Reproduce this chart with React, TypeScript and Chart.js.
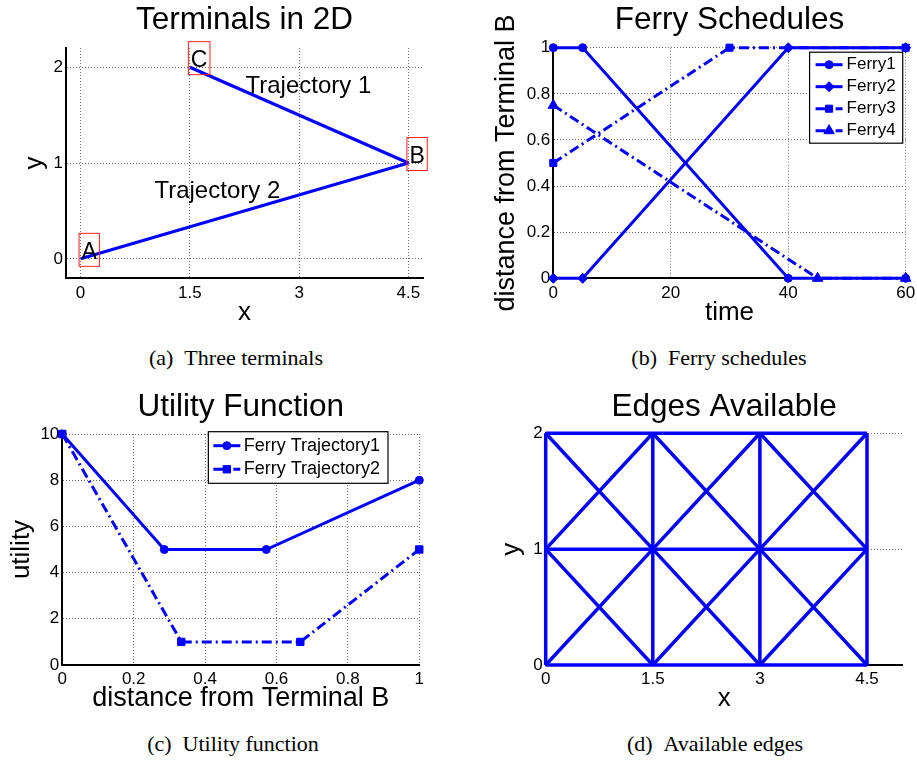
import React, { useEffect, useRef } from 'react';
import { Chart, registerables } from 'chart.js';

Chart.register(...registerables);

const BLUE = '#0000ff';
const SANS = '"Liberation Sans", Arial, Helvetica, sans-serif';
const SERIF = '"Liberation Serif", "Times New Roman", serif';
const DASHDOT = [10, 4, 2, 4];

// ---------- Panel (a): terminals ----------
const terminalNames = ['A', 'B', 'C'];
const terminalX = [0, 4.5, 1.5];
const terminalY = [0, 1, 2];
const trajectory1X = [1.5, 4.5];
const trajectory1Y = [2, 1];
const trajectory2X = [0, 4.5];
const trajectory2Y = [0, 1];
const trajectoryLabels = ['Trajectory 1', 'Trajectory 2'];
const trajectoryLabelX = [2.25, 1.0];
const trajectoryLabelY = [1.8, 0.7];
const terminalXTicks = [0, 1.5, 3, 4.5];
const terminalYTicks = [0, 1, 2];

// ---------- Panel (b): ferry schedules ----------
const ferryNames = ['Ferry1', 'Ferry2', 'Ferry3', 'Ferry4'];
const ferry1Time = [0, 5, 40, 60];
const ferry1Dist = [1, 1, 0, 0];
const ferry2Time = [0, 5, 40, 60];
const ferry2Dist = [0, 0, 1, 1];
const ferry3Time = [0, 30, 60];
const ferry3Dist = [0.5, 1, 1];
const ferry4Time = [0, 45, 60];
const ferry4Dist = [0.75, 0, 0];
const timeTicks = [0, 20, 40, 60];
const distTicks = [0, 0.2, 0.4, 0.6, 0.8, 1];

// ---------- Panel (c): utility ----------
const utilityNames = ['Ferry Trajectory1', 'Ferry Trajectory2'];
const utility1Dist = [0, 0.2857, 0.5714, 1];
const utility1Value = [10, 5, 5, 8];
const utility2Dist = [0, 0.3333, 0.6667, 1];
const utility2Value = [10, 1, 1, 5];
const utilityXTicks = [0, 0.2, 0.4, 0.6, 0.8, 1];
const utilityYTicks = [0, 2, 4, 6, 8, 10];

// ---------- Panel (d): edges ----------
const edgePaths: number[][][] = [
  [[0, 0], [4.5, 0]],
  [[0, 1], [4.5, 1]],
  [[0, 2], [4.5, 2]],
  [[0, 0], [0, 2]],
  [[1.5, 0], [1.5, 2]],
  [[3, 0], [3, 2]],
  [[4.5, 0], [4.5, 2]],
  [[0, 0], [1.5, 1], [3, 2]],
  [[0, 1], [1.5, 2]],
  [[1.5, 0], [3, 1], [4.5, 2]],
  [[3, 0], [4.5, 1]],
  [[0, 2], [1.5, 1], [3, 0]],
  [[0, 1], [1.5, 0]],
  [[1.5, 2], [3, 1], [4.5, 0]],
  [[3, 2], [4.5, 1]],
];
const edgeXTicks = [0, 1.5, 3, 4.5];
const edgeYTicks = [0, 1, 2];

const pts = (xs: number[], ys: number[]) => xs.map((x, i) => ({ x, y: ys[i] }));

function drawMarker(ctx: CanvasRenderingContext2D, style: string, x: number, y: number, r: number) {
  ctx.beginPath();
  if (style === 'circle') {
    ctx.arc(x, y, r, 0, Math.PI * 2);
  } else if (style === 'rect') {
    const s = r * Math.SQRT1_2;
    ctx.rect(x - s, y - s, 2 * s, 2 * s);
  } else if (style === 'rectRot') {
    ctx.moveTo(x - r, y);
    ctx.lineTo(x, y - r);
    ctx.lineTo(x + r, y);
    ctx.lineTo(x, y + r);
    ctx.closePath();
  } else if (style === 'triangle') {
    const a = (Math.PI * 2) / 3;
    ctx.moveTo(x, y - r);
    ctx.lineTo(x + Math.sin(a) * r, y - Math.cos(a) * r);
    ctx.lineTo(x - Math.sin(a) * r, y - Math.cos(a) * r);
    ctx.closePath();
  }
  ctx.fillStyle = BLUE;
  ctx.strokeStyle = BLUE;
  ctx.lineWidth = 1;
  ctx.setLineDash([]);
  ctx.fill();
  ctx.stroke();
}

type LegendItem = { label: string; style: string; radius: number; dash: number[] };
type LegendSpec = {
  items: LegendItem[];
  fontSize: number;
  rightOffset: number;
  topOffset: number;
  rowH: number;
  padTop: number;
  lineStart: number;
  lineLen: number;
  textStart: number;
  padRight: number;
};
type TextSpec = { text: string; x: number; y: number; size: number; baseline: CanvasTextBaseline; box?: boolean };

type PanelSpec = {
  left: number;
  top: number;
  width: number;
  height: number;
  area: { l: number; t: number; r: number; b: number };
  title: string;
  titleBaseline: number;
  xTitle: string;
  xTitleSize: number;
  xTitlePad: number;
  yTitle: string;
  yTitleSize: number;
  yTitlePad: number;
  xTickPad: number;
  xMin: number;
  xMax: number;
  yMin: number;
  yMax: number;
  xTicks: number[];
  yTicks: number[];
  datasets: any[];
  legend?: LegendSpec;
  texts?: TextSpec[];
};

const fmt = (v: number) => String(Number(Number(v).toFixed(4)));

function scaleCfg(axis: 'x' | 'y', s: PanelSpec) {
  const isX = axis === 'x';
  const ticks = isX ? s.xTicks : s.yTicks;
  const fixed = isX ? s.height - s.area.b : s.area.l;
  return {
    type: 'linear',
    position: isX ? 'bottom' : 'left',
    min: isX ? s.xMin : s.yMin,
    max: isX ? s.xMax : s.yMax,
    afterBuildTicks: (sc: any) => {
      sc.ticks = ticks.map((v) => ({ value: v }));
    },
    afterFit: (sc: any) => {
      if (isX) sc.height = fixed;
      else sc.width = fixed;
      sc.paddingLeft = 0;
      sc.paddingRight = 0;
      sc.paddingTop = 0;
      sc.paddingBottom = 0;
    },
    ticks: {
      color: '#000',
      font: { family: SANS, size: 17 },
      padding: isX ? s.xTickPad : 3,
      autoSkip: false,
      maxRotation: 0,
      minRotation: 0,
      callback: (v: any) => fmt(v),
    },
    grid: { color: '#6e6e6e', lineWidth: 1, drawTicks: false },
    border: { display: true, color: '#000', width: 2, dash: [1, 2] },
    title: {
      display: true,
      text: isX ? s.xTitle : s.yTitle,
      color: '#000',
      font: { family: SANS, size: isX ? s.xTitleSize : s.yTitleSize },
      padding: isX ? { top: 0, bottom: s.xTitlePad } : { top: s.yTitlePad, bottom: 0 },
    },
  };
}

function makeExtras(s: PanelSpec) {
  return {
    id: 'extras',
    afterDraw(chart: any) {
      const { ctx, chartArea } = chart;
      const xs = chart.scales.x;
      const ys = chart.scales.y;
      ctx.save();
      // Title
      ctx.fillStyle = '#000';
      ctx.font = `31.5px ${SANS}`;
      ctx.textAlign = 'center';
      ctx.textBaseline = 'alphabetic';
      ctx.fillText(s.title, (chartArea.left + chartArea.right) / 2, s.titleBaseline);

      // Annotation texts
      for (const t of s.texts || []) {
        const px = xs.getPixelForValue(t.x);
        const py = ys.getPixelForValue(t.y);
        ctx.font = `${t.size}px ${SANS}`;
        ctx.textAlign = 'left';
        ctx.textBaseline = t.baseline;
        ctx.fillStyle = '#000';
        ctx.fillText(t.text, px + 1, py);
        if (t.box) {
          const w = ctx.measureText(t.text).width;
          ctx.strokeStyle = '#ff2020';
          ctx.lineWidth = 1;
          ctx.setLineDash([]);
          ctx.strokeRect(px - 1.5, py - 25.5, w + 5, 33);
        }
      }

      // Legend
      const lg = s.legend;
      if (lg) {
        ctx.font = `${lg.fontSize}px ${SANS}`;
        const tw = Math.max(...lg.items.map((it) => ctx.measureText(it.label).width));
        const w = lg.textStart + tw + lg.padRight;
        const h = lg.padTop * 2 + lg.rowH * lg.items.length;
        const x1 = chartArea.right - lg.rightOffset;
        const x0 = x1 - w;
        const y0 = chartArea.top + lg.topOffset;
        ctx.fillStyle = '#fff';
        ctx.fillRect(x0, y0, w, h);
        ctx.strokeStyle = '#000';
        ctx.lineWidth = 1.2;
        ctx.setLineDash([]);
        ctx.strokeRect(x0, y0, w, h);
        lg.items.forEach((it, i) => {
          const cy = y0 + lg.padTop + lg.rowH * (i + 0.5);
          ctx.beginPath();
          ctx.strokeStyle = BLUE;
          ctx.lineWidth = 3;
          ctx.setLineDash(it.dash);
          ctx.moveTo(x0 + lg.lineStart, cy);
          ctx.lineTo(x0 + lg.lineStart + lg.lineLen, cy);
          ctx.stroke();
          drawMarker(ctx, it.style, x0 + lg.lineStart + lg.lineLen / 2, cy, it.radius);
          ctx.fillStyle = '#000';
          ctx.font = `${lg.fontSize}px ${SANS}`;
          ctx.textAlign = 'left';
          ctx.textBaseline = 'middle';
          ctx.fillText(it.label, x0 + lg.textStart, cy);
        });
      }
      ctx.restore();
    },
  };
}

function buildConfig(s: PanelSpec): any {
  return {
    type: 'line',
    data: { datasets: s.datasets },
    options: {
      responsive: false,
      animation: false,
      devicePixelRatio: 1,
      layout: {
        padding: { left: 0, top: s.area.t, right: s.width - s.area.r, bottom: 0 },
      },
      plugins: { legend: { display: false }, tooltip: { enabled: false }, title: { display: false } },
      scales: { x: scaleCfg('x', s), y: scaleCfg('y', s) },
      elements: { line: { tension: 0 } },
    },
    plugins: [makeExtras(s)],
  };
}

const lineDs = (data: any[], width: number, dash: number[], style: string | false, radius: number) => ({
  data,
  borderColor: BLUE,
  backgroundColor: BLUE,
  borderWidth: width,
  borderDash: dash,
  fill: false,
  clip: false,
  pointStyle: style || 'circle',
  pointRadius: style ? radius : 0,
  pointHoverRadius: style ? radius : 0,
  pointBackgroundColor: BLUE,
  pointBorderColor: BLUE,
  pointBorderWidth: 1,
});

const panelA: PanelSpec = {
  left: 0,
  top: 0,
  width: 460,
  height: 335,
  area: { l: 66, t: 48, r: 423, b: 278 },
  title: 'Terminals in 2D',
  titleBaseline: 29.3,
  xTitle: 'x',
  xTitleSize: 26,
  xTitlePad: 6.7,
  yTitle: 'y',
  yTitleSize: 26,
  yTitlePad: 19,
  xTickPad: 5,
  xMin: -0.2,
  xMax: 4.7,
  yMin: -0.2,
  yMax: 2.2,
  xTicks: terminalXTicks,
  yTicks: terminalYTicks,
  datasets: [
    lineDs(pts(trajectory1X, trajectory1Y), 3.2, [], false, 0),
    lineDs(pts(trajectory2X, trajectory2Y), 3.2, [], false, 0),
  ],
  texts: [
    ...terminalNames.map((n, i) => ({ text: n, x: terminalX[i], y: terminalY[i], size: 23, baseline: 'alphabetic' as CanvasTextBaseline, box: true })),
    ...trajectoryLabels.map((n, i) => ({ text: n, x: trajectoryLabelX[i], y: trajectoryLabelY[i], size: 24, baseline: 'middle' as CanvasTextBaseline })),
  ],
};

const ferryStyles = [
  { style: 'circle', radius: 4, dash: [] as number[] },
  { style: 'rectRot', radius: 5, dash: [] as number[] },
  { style: 'rect', radius: 5, dash: DASHDOT },
  { style: 'triangle', radius: 6, dash: DASHDOT },
];
const ferryData = [
  pts(ferry1Time, ferry1Dist),
  pts(ferry2Time, ferry2Dist),
  pts(ferry3Time, ferry3Dist),
  pts(ferry4Time, ferry4Dist),
];

const panelB: PanelSpec = {
  left: 460,
  top: 0,
  width: 457,
  height: 335,
  area: { l: 93.3, t: 47.7, r: 445.7, b: 278.3 },
  title: 'Ferry Schedules',
  titleBaseline: 29.3,
  xTitle: 'time',
  xTitleSize: 26,
  xTitlePad: 6.7,
  yTitle: 'distance from Terminal B',
  yTitleSize: 27,
  yTitlePad: 30.5,
  xTickPad: 5,
  xMin: 0,
  xMax: 60,
  yMin: 0,
  yMax: 1,
  xTicks: timeTicks,
  yTicks: distTicks,
  datasets: ferryData.map((d, i) => lineDs(d, 3, ferryStyles[i].dash, ferryStyles[i].style, ferryStyles[i].radius)),
  legend: {
    items: ferryNames.map((n, i) => ({ label: n, ...ferryStyles[i] })),
    fontSize: 17,
    rightOffset: 3,
    topOffset: 4.5,
    rowH: 22,
    padTop: 1.5,
    lineStart: 6,
    lineLen: 27,
    textStart: 37,
    padRight: 7,
  },
};

const utilityStyles = [
  { style: 'circle', radius: 4, dash: [] as number[] },
  { style: 'rect', radius: 5.2, dash: DASHDOT },
];
const utilityData = [pts(utility1Dist, utility1Value), pts(utility2Dist, utility2Value)];

const panelC: PanelSpec = {
  left: 0,
  top: 380,
  width: 460,
  height: 340,
  area: { l: 62.3, t: 54, r: 419.3, b: 285 },
  title: 'Utility Function',
  titleBaseline: 35.7,
  xTitle: 'distance from Terminal B',
  xTitleSize: 27,
  xTitlePad: 5.2,
  yTitle: 'utility',
  yTitleSize: 26,
  yTitlePad: 6.4,
  xTickPad: 4,
  xMin: 0,
  xMax: 1,
  yMin: 0,
  yMax: 10,
  xTicks: utilityXTicks,
  yTicks: utilityYTicks,
  datasets: utilityData.map((d, i) => lineDs(d, 3, utilityStyles[i].dash, utilityStyles[i].style, utilityStyles[i].radius)),
  legend: {
    items: utilityNames.map((n, i) => ({ label: n, ...utilityStyles[i] })),
    fontSize: 18,
    rightOffset: 31.3,
    topOffset: -2.3,
    rowH: 23.6,
    padTop: 2.2,
    lineStart: 5,
    lineLen: 27,
    textStart: 35.3,
    padRight: 8,
  },
};

const panelD: PanelSpec = {
  left: 460,
  top: 380,
  width: 457,
  height: 340,
  area: { l: 85.7, t: 53.3, r: 442.7, b: 285 },
  title: 'Edges Available',
  titleBaseline: 35.7,
  xTitle: 'x',
  xTitleSize: 26,
  xTitlePad: 5.7,
  yTitle: 'y',
  yTitleSize: 26,
  yTitlePad: 36.5,
  xTickPad: 4,
  xMin: 0,
  xMax: 5,
  yMin: 0,
  yMax: 2,
  xTicks: edgeXTicks,
  yTicks: edgeYTicks,
  datasets: edgePaths.map((p) => lineDs(p.map(([x, y]) => ({ x, y })), 3.5, [], false, 0)),
};

function Panel({ spec }: { spec: PanelSpec }) {
  const ref = useRef<HTMLCanvasElement>(null);
  useEffect(() => {
    const chart = new Chart(ref.current as HTMLCanvasElement, buildConfig(spec));
    return () => chart.destroy();
  }, [spec]);
  return (
    <canvas
      ref={ref}
      width={spec.width}
      height={spec.height}
      style={{ position: 'absolute', left: spec.left, top: spec.top, width: spec.width, height: spec.height }}
    />
  );
}

const captions = [
  { text: '(a)\u00a0\u00a0Three terminals', cx: 236, top: 344.6 },
  { text: '(b)\u00a0\u00a0Ferry schedules', cx: 719, top: 344.6 },
  { text: '(c)\u00a0\u00a0Utility function', cx: 233, top: 731.3 },
  { text: '(d)\u00a0\u00a0Available edges', cx: 715, top: 731.3 },
];

export default function App() {
  return (
    <div style={{ position: 'absolute', left: 0, top: 0, width: 917, height: 761, background: '#fff', overflow: 'hidden' }}>
      <Panel spec={panelA} />
      <Panel spec={panelB} />
      <Panel spec={panelC} />
      <Panel spec={panelD} />
      {captions.map((c) => (
        <div
          key={c.text}
          style={{
            position: 'absolute',
            left: c.cx - 200,
            width: 400,
            top: c.top,
            textAlign: 'center',
            fontFamily: SERIF,
            fontSize: 22,
            lineHeight: '26px',
            color: '#000',
            whiteSpace: 'pre',
          }}
        >
          {c.text}
        </div>
      ))}
    </div>
  );
}
